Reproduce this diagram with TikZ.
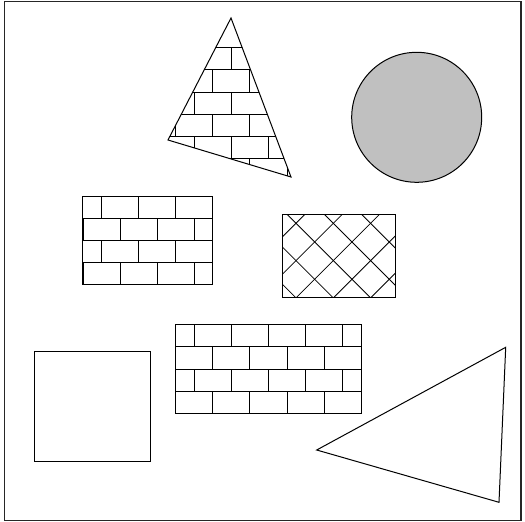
\documentclass[tikz,border=0pt]{standalone}
\usetikzlibrary{calc}
\definecolor{circlegray}{RGB}{192,192,192}
\tikzset{
  outline/.style={draw=black,line width=1pt,line join=miter},
  brickline/.style={draw=black,line width=0.9pt},
  hatchline/.style={draw=black,line width=0.8pt},
  framebox/.style={draw=black!85,line width=1.4pt}
}
\newcommand\brickwall[4]{%
  \foreach \i in {0,...,#4}{%
    \pgfmathsetmacro\ya{#1+\i*22.2}%
    \pgfmathsetmacro\yb{\ya+22.2}%
    \ifodd\i \def\ph{#3}\else\def\ph{#2}\fi
    \draw[brickline] (40,\ya) -- (420,\ya);
    \foreach \k in {0,...,9}{%
      \pgfmathsetmacro\xx{\ph-148.4+\k*37.1}%
      \draw[brickline] (\xx,\ya) -- (\xx,\yb);
    }%
  }%
}
\begin{document}
\begin{tikzpicture}[x=1pt,y=-1pt]
\useasboundingbox (0,0) rectangle (525,522);
% frame
\draw[framebox] (4.5,1.5) rectangle (521,520.5);

% brick triangle
\coordinate (ta) at (231,18);
\coordinate (tb) at (168,140);
\coordinate (tc) at (291,177);
\begin{scope}
  \clip (ta) -- (tb) -- (tc) -- cycle;
  \brickwall{47.7}{194.3}{212.8}{6}
\end{scope}
\draw[outline] (ta) -- (tb) -- (tc) -- cycle;

% grey circle
\coordinate (cc) at (416.7,117.3);
\draw[outline,fill=circlegray] (cc) circle[radius=65];

% left brick rectangle
\coordinate (r2a) at (82.3,196);
\coordinate (r2b) at (212.3,284);
\begin{scope}
  \clip (r2a) rectangle (r2b);
  \brickwall{196}{212.8}{194.3}{4}
\end{scope}
\draw[outline] (r2a) rectangle (r2b);

% cross-hatched rectangle
\coordinate (r1a) at (282.3,214.3);
\coordinate (r1b) at (395.7,297.7);
\begin{scope}
  \clip (r1a) rectangle (r1b);
  \foreach \k in {-3,...,4}{%
    \pgfmathsetmacro\c{72.7+\k*37.3}%
    \draw[hatchline] ({\c+190},190) -- ({\c+320},320);
  }
  \foreach \k in {-2,...,6}{%
    \pgfmathsetmacro\s{519.3+\k*37.3}%
    \draw[hatchline] ({\s-190},190) -- ({\s-320},320);
  }
\end{scope}
\draw[outline] (r1a) rectangle (r1b);

% lower brick rectangle
\coordinate (r3a) at (175,324.7);
\coordinate (r3b) at (361.7,413.7);
\begin{scope}
  \clip (r3a) rectangle (r3b);
  \brickwall{324.7}{194.3}{212.8}{4}
\end{scope}
\draw[outline] (r3a) rectangle (r3b);

% square
\coordinate (sqa) at (34.3,351);
\coordinate (sqb) at (150,461);
\draw[outline] (sqa) rectangle (sqb);

% lower right triangle
\coordinate (ua) at (505.7,347.3);
\coordinate (ub) at (316.7,450);
\coordinate (uc) at (499,502.3);
\draw[outline] (ua) -- (ub) -- (uc) -- cycle;
\end{tikzpicture}
\end{document}
